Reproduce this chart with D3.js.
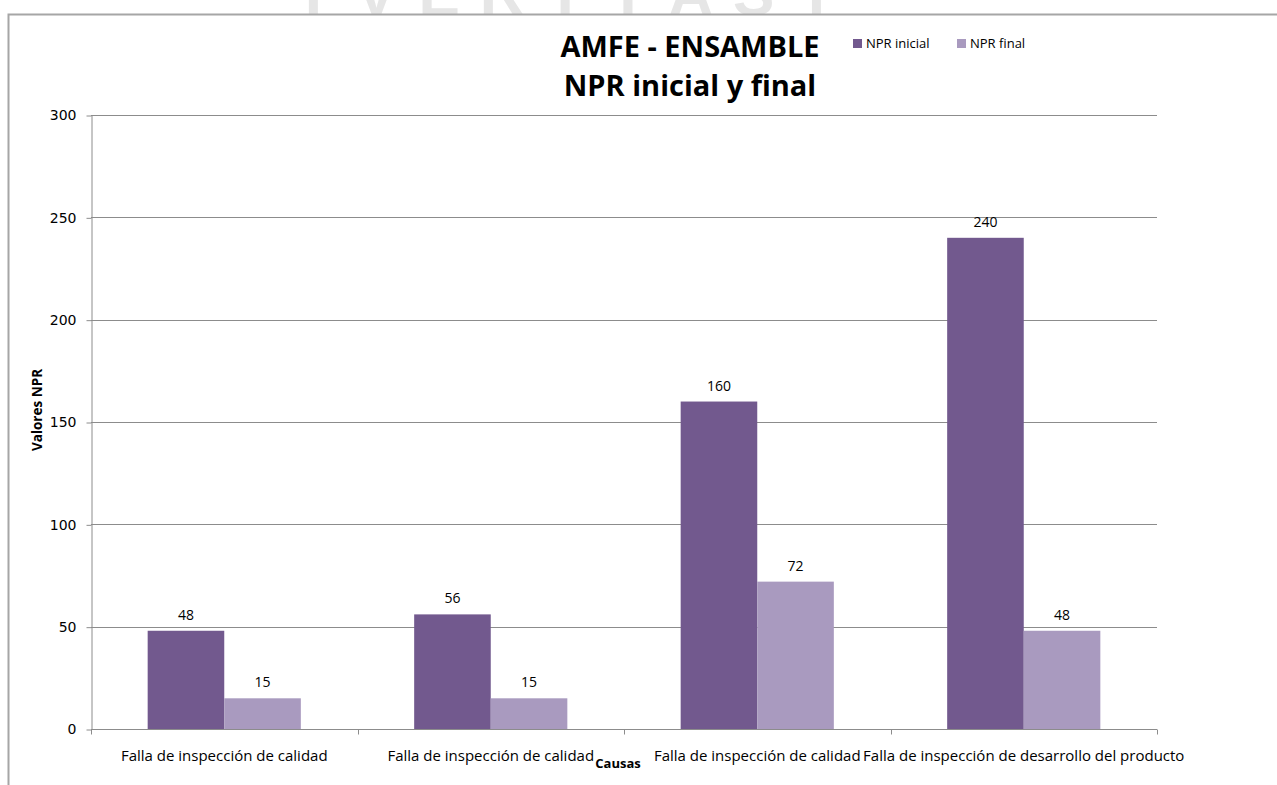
<!DOCTYPE html>
<html>
<head>
<meta charset="utf-8">
<script src="https://cdn.jsdelivr.net/npm/d3@7"></script>
<style>
  html, body { margin: 0; padding: 0; background: #fff; }
  svg { display: block; }
  text { font-family: "Open Sans", sans-serif; }
</style>
</head>
<body>
<svg id="chart" width="1277" height="785"></svg>
<script>
// Chart data
const categories = [
  "Falla de inspección de calidad",
  "Falla de inspección de calidad",
  "Falla de inspección de calidad",
  "Falla de inspección de desarrollo del producto"
];
const seriesNames = ["NPR inicial", "NPR final"];
const nprInicial = [48, 56, 160, 240];
const nprFinal = [15, 15, 72, 48];
const yTicks = [0, 50, 100, 150, 200, 250, 300];
const watermarkLetters = ["I", "V", "E", "R", "I", "T", "A", "S", "T"];

const colors = ["#72598e", "#a99abf"];

const svg = d3.select("#chart");
const W = 1277, H = 785;

// Faint background lettering above the chart frame
const wm = d3.scaleBand().domain(d3.range(watermarkLetters.length)).range([282, 848]);
svg.append("g").selectAll("text").data(watermarkLetters).join("text")
  .attr("x", (d, i) => wm(i) + wm.bandwidth() / 2)
  .attr("y", 15)
  .attr("text-anchor", "middle")
  .style("font-family", "Liberation Sans, Arial, sans-serif")
  .style("font-weight", "bold")
  .style("font-size", "62px")
  .attr("fill", "#e6e6e6")
  .text(d => d);

// Chart frame
svg.append("rect").attr("x", 8).attr("y", 14).attr("width", W).attr("height", H).attr("fill", "#fff");
svg.append("path")
  .attr("d", `M8.5,${H} L8.5,14.5 L${W},14.5`)
  .attr("fill", "none").attr("stroke", "#a6a6a6").attr("stroke-width", 2);

const margin = { left: 91, right: 1157, top: 115, bottom: 729 };

const x0 = d3.scaleBand().domain(d3.range(categories.length)).range([margin.left, margin.right]).paddingInner(0).paddingOuter(0);
const x1 = d3.scaleBand().domain(seriesNames).range([0, x0.bandwidth()]).paddingInner(0).paddingOuter(0.74);
const y = d3.scaleLinear().domain([0, 300]).range([margin.bottom, margin.top]);

// Gridlines
svg.append("g").selectAll("line").data(yTicks.filter(d => d > 0)).join("line")
  .attr("x1", margin.left).attr("x2", margin.right)
  .attr("y1", d => Math.round(y(d)) + 0.5).attr("y2", d => Math.round(y(d)) + 0.5)
  .attr("stroke", "#8c8c8c").attr("stroke-width", 1);

// Y axis
const yAxis = svg.append("g")
  .attr("transform", `translate(${margin.left + 0.5},0.5)`)
  .call(d3.axisLeft(y).tickValues(yTicks).tickSize(5).tickPadding(10).tickSizeOuter(0));
yAxis.select(".domain").attr("stroke", "#8c8c8c");
yAxis.selectAll(".tick line").attr("stroke", "#8c8c8c");
yAxis.selectAll(".tick text")
  .style("font-family", "DejaVu Sans, Verdana, sans-serif")
  .style("font-size", "14px").attr("fill", "#000");

// Bars
const groups = svg.append("g").selectAll("g").data(categories).join("g")
  .attr("transform", (d, i) => `translate(${x0(i)},0)`);
groups.selectAll("rect")
  .data((d, i) => [nprInicial[i], nprFinal[i]].map((v, k) => ({ key: seriesNames[k], v, k })))
  .join("rect")
  .attr("x", d => x1(d.key))
  .attr("width", x1.bandwidth())
  .attr("y", d => y(d.v))
  .attr("height", d => y(0) - y(d.v))
  .attr("fill", d => colors[d.k]);
groups.selectAll("text.val")
  .data((d, i) => [nprInicial[i], nprFinal[i]].map((v, k) => ({ key: seriesNames[k], v, k })))
  .join("text").attr("class", "val")
  .attr("x", d => x1(d.key) + x1.bandwidth() / 2)
  .attr("y", d => y(d.v) - 11)
  .attr("text-anchor", "middle")
  .style("font-size", "14px").attr("fill", "#000")
  .text(d => d.v);

// X axis
const xBaseline = Math.round(y(0)) + 0.5;
const xAxis = svg.append("g");
xAxis.append("line").attr("x1", margin.left).attr("x2", margin.right)
  .attr("y1", xBaseline).attr("y2", xBaseline).attr("stroke", "#8c8c8c");
xAxis.selectAll("line.tk").data(d3.range(categories.length + 1)).join("line").attr("class", "tk")
  .attr("x1", i => Math.round(margin.left + i * x0.bandwidth()) + 0.5)
  .attr("x2", i => Math.round(margin.left + i * x0.bandwidth()) + 0.5)
  .attr("y1", xBaseline).attr("y2", xBaseline + 5)
  .attr("stroke", "#8c8c8c");
xAxis.selectAll("text").data(categories).join("text")
  .attr("x", (d, i) => x0(i) + x0.bandwidth() / 2)
  .attr("y", 761)
  .attr("text-anchor", "middle")
  .style("font-size", "15px").attr("fill", "#000")
  .text(d => d);

// Axis titles
svg.append("text").attr("x", 618).attr("y", 768).attr("text-anchor", "middle")
  .style("font-weight", "bold").style("font-size", "13px").text("Causas");
svg.append("text").attr("transform", "translate(42,410) rotate(-90)").attr("text-anchor", "middle")
  .style("font-weight", "bold").style("font-size", "13.5px").text("Valores NPR");

// Title
svg.append("text").attr("x", 690).attr("y", 57).attr("text-anchor", "middle")
  .style("font-weight", "bold").style("font-size", "29px").text("AMFE - ENSAMBLE");
svg.append("text").attr("x", 690).attr("y", 96).attr("text-anchor", "middle")
  .style("font-weight", "bold").style("font-size", "29px").text("NPR inicial y final");

// Legend
const legend = svg.append("g").selectAll("g").data(seriesNames).join("g")
  .attr("transform", (d, i) => `translate(${[853, 957][i]},39)`);
legend.append("rect").attr("width", 9).attr("height", 9).attr("fill", (d, i) => colors[i]);
legend.append("text").attr("x", 13).attr("y", 9).style("font-size", "13px").text(d => d);
</script>
</body>
</html>
